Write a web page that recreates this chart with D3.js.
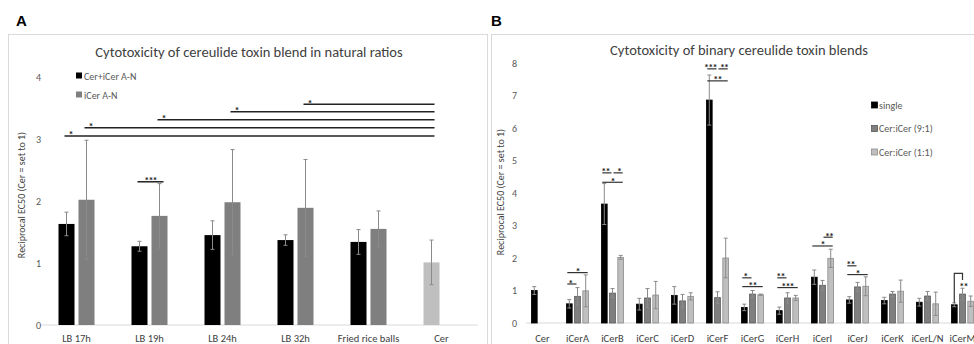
<!DOCTYPE html>
<html>
<head>
<meta charset="utf-8">
<script src="https://cdn.jsdelivr.net/npm/d3@7"></script>
<style>
  html, body { margin: 0; padding: 0; background: #fff; }
  svg { display: block; font-family: Carlito, Lato, "Open Sans", sans-serif; }
</style>
</head>
<body>
<div id="chart"></div>
<script>
// ---- panel A data ----
const catsA = ["LB 17h", "LB 19h", "LB 24h", "LB 32h", "Fried rice balls", "Cer"];
const seriesA = ["Cer+iCer A-N", "iCer A-N"];
const blendA = [1.63, 1.27, 1.45, 1.37, 1.34, 1.01];
const blendErrA = [0.19, 0.08, 0.23, 0.085, 0.2, 0.36];
const iCerA = [2.02, 1.76, 1.98, 1.89, 1.55, null];
const iCerErrA = [0.96, 0.52, 0.85, 0.78, 0.29, null];
const ticksA = [0, 1, 2, 3, 4];
// comparisons against Cer: [category, series index, height, label]
const sigToCerA = [
  ["LB 17h", 0, 3.05, "*"],
  ["LB 17h", 1, 3.18, "*"],
  ["LB 19h", 1, 3.31, "*"],
  ["LB 24h", 1, 3.44, "*"],
  ["LB 32h", 1, 3.56, "*"]
];
const sigPairA = [["LB 19h", 0, 1, 2.31, "***"]];

// ---- panel B data ----
const catsB = ["Cer", "iCerA", "iCerB", "iCerC", "iCerD", "iCerF", "iCerG", "iCerH", "iCerI", "iCerJ", "iCerK", "iCerL/N", "iCerM"];
const seriesB = ["single", "Cer:iCer (9:1)", "Cer:iCer (1:1)"];
const single = [1.0, 0.59, 3.66, 0.58, 0.85, 6.86, 0.48, 0.38, 1.41, 0.71, 0.69, 0.64, 0.56];
const singleErr = [0.12, 0.13, 0.63, 0.18, 0.27, 0.77, 0.1, 0.11, 0.22, 0.1, 0.1, 0.12, 0.06];
const mix91 = [null, 0.82, 0.92, 0.77, 0.68, 0.78, 0.89, 0.77, 1.16, 1.11, 0.89, 0.83, 0.89];
const mix91Err = [null, 0.27, 0.14, 0.29, 0.2, 0.18, 0.11, 0.16, 0.15, 0.14, 0.08, 0.14, 0.18];
const mix11 = [null, 0.99, 2.02, 0.86, 0.82, 2.0, 0.87, 0.77, 1.99, 1.13, 0.98, 0.59, 0.67];
const mix11Err = [null, 0.49, 0.06, 0.42, 0.11, 0.61, 0.02, 0.08, 0.28, 0.29, 0.34, 0.36, 0.16];
const ticksB = [0, 1, 2, 3, 4, 5, 6, 7, 8];
// [category, from series, to series, height, label]
const sigB = [
  ["iCerA", 0, 1, 1.2, "*"],
  ["iCerA", 0, 2, 1.55, "*"],
  ["iCerB", 0, 2, 4.33, "*"],
  ["iCerB", 0, 1, 4.62, "**"],
  ["iCerB", 1, 2, 4.62, "*"],
  ["iCerF", 0, 2, 7.45, "**"],
  ["iCerF", 0, 1, 7.82, "***"],
  ["iCerF", 1, 2, 7.82, "**"],
  ["iCerG", 0, 1, 1.39, "*"],
  ["iCerG", 0, 2, 1.12, "**"],
  ["iCerH", 0, 1, 1.39, "**"],
  ["iCerH", 0, 2, 1.09, "***"],
  ["iCerI", 1, 2, 2.64, "**"],
  ["iCerI", 0, 2, 2.37, "*"],
  ["iCerJ", 0, 1, 1.76, "**"],
  ["iCerJ", 0, 2, 1.49, "*"]
];
// bracket: [category, from, to, left foot, top, right foot, label height, label]
const bracketB = [["iCerM", 0, 1, 0.62, 1.53, 1.32, 1.22, "**"]];

const W = 974, H = 344;
const textCol = "#595959";
const errCol = "#8a8a8a";

const svg = d3.select("#chart").append("svg")
  .attr("width", W).attr("height", H);

// panel frames
svg.append("rect").attr("x", 8.5).attr("y", 34.5).attr("width", 479).attr("height", 330)
  .attr("fill", "none").attr("stroke", "#d9d9d9");
svg.append("rect").attr("x", 491.5).attr("y", 34.5).attr("width", 500).attr("height", 330)
  .attr("fill", "none").attr("stroke", "#d9d9d9");

svg.append("text").attr("x", 16).attr("y", 26).attr("font-family", "Liberation Sans, Arial, sans-serif")
  .attr("font-weight", "bold").attr("font-size", 15).text("A");
svg.append("text").attr("x", 491).attr("y", 26).attr("font-family", "Liberation Sans, Arial, sans-serif")
  .attr("font-weight", "bold").attr("font-size", 15).text("B");

function errorBars(g, data, cx, y) {
  const eb = g.append("g").attr("stroke", errCol).attr("stroke-width", 1);
  data.filter(d => d.err != null).forEach(d => {
    const c = cx(d);
    eb.append("line").attr("x1", c).attr("x2", c).attr("y1", y(d.v - d.err)).attr("y2", y(d.v + d.err));
    eb.append("line").attr("x1", c - 2).attr("x2", c + 2).attr("y1", y(d.v + d.err)).attr("y2", y(d.v + d.err));
    eb.append("line").attr("x1", c - 2).attr("x2", c + 2).attr("y1", y(d.v - d.err)).attr("y2", y(d.v - d.err));
  });
}

function stars(g, x, yy, label) {
  g.append("text").attr("x", x).attr("y", yy + 2.5).attr("text-anchor", "middle")
    .attr("font-size", 10).attr("font-weight", "bold").attr("letter-spacing", -0.8)
    .attr("fill", "#222").text(label);
}

// ================= panel A =================
{
  const x = d3.scaleBand().domain(catsA).range([40, 478]);
  const x1 = d3.scaleBand().domain([0, 1]).range([-18, 18]).paddingInner(0.2);
  const y = d3.scaleLinear().domain([0, 4]).range([325, 77]);
  const g = svg.append("g");

  g.append("text").attr("x", 249).attr("y", 57).attr("text-anchor", "middle")
    .attr("font-size", 14.5).attr("fill", "#404040")
    .text("Cytotoxicity of cereulide toxin blend in natural ratios");

  g.append("line").attr("x1", 40).attr("x2", 478).attr("y1", y(0)).attr("y2", y(0))
    .attr("stroke", "#d9d9d9");

  g.selectAll(".ytA").data(ticksA).join("text")
    .attr("x", 41).attr("y", d => y(d) + 3.5).attr("text-anchor", "end")
    .attr("font-size", 10).attr("fill", textCol).text(d => d);

  g.selectAll(".xtA").data(catsA).join("text")
    .attr("x", d => x(d) + x.bandwidth() / 2).attr("y", 342).attr("text-anchor", "middle")
    .attr("font-size", 10.5).attr("fill", "#404040").text(d => d);

  g.append("text").attr("transform", "translate(25,195) rotate(-90)").attr("text-anchor", "middle")
    .attr("font-size", 10).attr("fill", "#404040").text("Reciprocal EC50 (Cer = set to 1)");

  const bars = [];
  catsA.forEach((c, i) => {
    if (blendA[i] != null) bars.push({ c, s: 0, v: blendA[i], err: blendErrA[i] });
    if (iCerA[i] != null) bars.push({ c, s: 1, v: iCerA[i], err: iCerErrA[i] });
  });
  const colA = d => d.c === "Cer" ? "#bfbfbf" : (d.s === 0 ? "#000" : "#7f7f7f");
  const cx = d => x(d.c) + x.bandwidth() / 2 + x1(d.s) + x1.bandwidth() / 2;

  g.selectAll(".barA").data(bars).join("rect")
    .attr("x", d => cx(d) - x1.bandwidth() / 2).attr("width", x1.bandwidth())
    .attr("y", d => y(d.v)).attr("height", d => y(0) - y(d.v)).attr("fill", colA);
  errorBars(g, bars, cx, y);

  // legend
  seriesA.forEach((s, i) => {
    const ly = 76 + i * 19;
    g.append("rect").attr("x", 76).attr("y", ly - 3.5).attr("width", 6).attr("height", 6)
      .attr("fill", i === 0 ? "#000" : "#7f7f7f");
    g.append("text").attr("x", 84).attr("y", ly + 3.5).attr("font-size", 10)
      .attr("fill", textCol).text(s);
  });

  // significance
  const cerX = cx({ c: "Cer", s: 0 });
  const sg = g.append("g");
  sigToCerA.forEach(([c, s, h, lab]) => {
    const x0 = cx({ c, s });
    sg.append("line").attr("x1", x0 - 2).attr("x2", cerX + 3).attr("y1", y(h)).attr("y2", y(h))
      .attr("stroke", "#222").attr("stroke-width", 1.5);
    stars(sg, x0 + 4, y(h), lab);
  });
  sigPairA.forEach(([c, a, b, h, lab]) => {
    const xa = cx({ c, s: a }), xb = cx({ c, s: b });
    sg.append("line").attr("x1", xa - 2).attr("x2", xb + 4).attr("y1", y(h)).attr("y2", y(h))
      .attr("stroke", "#222").attr("stroke-width", 1.5);
    stars(sg, (xa + xb) / 2 + 1, y(h), lab);
  });
}

// ================= panel B =================
{
  const x = d3.scaleBand().domain(catsB).range([525, 980]);
  const x1 = d3.scaleBand().domain([0, 1, 2]).range([-11.5, 11.5]).paddingInner(0.2);
  const y = d3.scaleLinear().domain([0, 8]).range([323, 63]);
  const g = svg.append("g");

  g.append("text").attr("x", 739).attr("y", 55).attr("text-anchor", "middle")
    .attr("font-size", 14.5).attr("fill", "#404040")
    .text("Cytotoxicity of binary cereulide toxin blends");

  g.append("line").attr("x1", 526).attr("x2", 974).attr("y1", y(0)).attr("y2", y(0))
    .attr("stroke", "#d9d9d9");

  g.selectAll(".ytB").data(ticksB).join("text")
    .attr("x", 517).attr("y", d => y(d) + 3.5).attr("text-anchor", "end")
    .attr("font-size", 10).attr("fill", textCol).text(d => d);

  g.selectAll(".xtB").data(catsB).join("text")
    .attr("x", d => x(d) + x.bandwidth() / 2).attr("y", 342).attr("text-anchor", "middle")
    .attr("font-size", 10.5).attr("fill", "#404040").text(d => d);

  g.append("text").attr("transform", "translate(504,192) rotate(-90)").attr("text-anchor", "middle")
    .attr("font-size", 10).attr("fill", "#404040").text("Reciprocal EC50 (Cer = set to 1)");

  const vals = [single, mix91, mix11], errs = [singleErr, mix91Err, mix11Err];
  const fills = ["#000", "#7f7f7f", "#bfbfbf"], strokes = ["#000", "#595959", "#8c8c8c"];
  const bars = [];
  catsB.forEach((c, i) => {
    vals.forEach((arr, s) => {
      if (arr[i] != null) bars.push({ c, s, v: arr[i], err: errs[s][i] });
    });
  });
  const cx = d => x(d.c) + x.bandwidth() / 2 + x1(d.s) + x1.bandwidth() / 2;

  g.selectAll(".barB").data(bars).join("rect")
    .attr("x", d => cx(d) - x1.bandwidth() / 2 + 0.4).attr("width", x1.bandwidth() - 0.8)
    .attr("y", d => y(d.v)).attr("height", d => y(0) - y(d.v))
    .attr("fill", d => fills[d.s]).attr("stroke", d => strokes[d.s]).attr("stroke-width", 0.8);
  errorBars(g, bars, cx, y);

  // legend
  seriesB.forEach((s, i) => {
    const ly = 105 + i * 23.5;
    g.append("rect").attr("x", 871.5).attr("y", ly - 3).attr("width", 6).attr("height", 6)
      .attr("fill", fills[i]).attr("stroke", strokes[i]).attr("stroke-width", 0.8);
    g.append("text").attr("x", 879).attr("y", ly + 3.5).attr("font-size", 10)
      .attr("fill", textCol).text(s);
  });

  // significance
  const sg = g.append("g");
  sigB.forEach(([c, a, b, h, lab]) => {
    const xa = cx({ c, s: a }), xb = cx({ c, s: b });
    const x0 = xa - 2 + (a === 1 ? 3 : 0), x2 = xb + 2 - (b === 1 ? 3 : 0);
    sg.append("line").attr("x1", x0).attr("x2", x2).attr("y1", y(h)).attr("y2", y(h))
      .attr("stroke", "#333").attr("stroke-width", 1.2);
    const shift = b === 1 ? -1.5 : (a === 1 ? 1 : 0);
    stars(sg, (x0 + x2) / 2 + shift, y(h), lab);
  });
  bracketB.forEach(([c, a, b, fa, top, fb, lh, lab]) => {
    const xa = cx({ c, s: a }), xb = cx({ c, s: b });
    sg.append("path")
      .attr("d", `M${xa},${y(fa)}V${y(top)}H${xb}V${y(fb)}`)
      .attr("fill", "none").attr("stroke", "#333").attr("stroke-width", 1.2);
    stars(sg, xb + 1, y(lh) + 4, lab);
  });
}
</script>
</body>
</html>
